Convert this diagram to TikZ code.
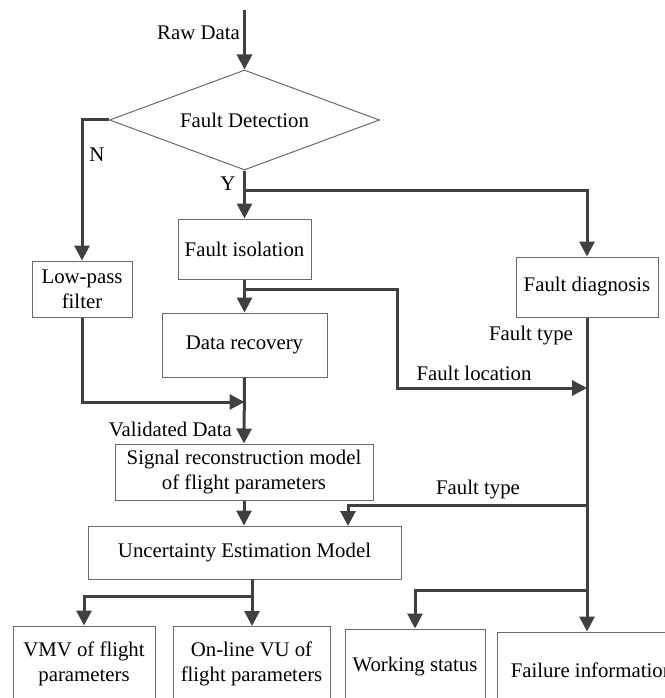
\documentclass[tikz,border=0pt]{standalone}
\usepackage{fontspec}
\setmainfont{Liberation Serif}
\usetikzlibrary{shapes.geometric,arrows.meta,calc}
\definecolor{lc}{HTML}{404040}
\definecolor{bc}{HTML}{6A6A6A}
\begin{document}
\begin{tikzpicture}[x=1pt,y=-1pt,
  every node/.style={font=\fontsize{20.8}{25}\selectfont, text=black},
  box/.style={draw=bc, line width=1pt, rectangle, inner sep=0pt, align=center},
  flow/.style={draw=lc, line width=3pt, -{Triangle[length=15pt,width=15pt]}},
  plain/.style={draw=lc, line width=3pt},
  lbl/.style={inner sep=0pt}]
\useasboundingbox (0,0) rectangle (664,698);
% nodes
\node[diamond, draw=bc, line width=1pt, minimum width=270pt, minimum height=100pt, inner sep=0pt, shape aspect=2.7] (fd) at (244.5,120) {Fault Detection};
\node[box, minimum width=133pt, minimum height=60pt] (fi) at (244.5,249) {Fault isolation};
\node[box, minimum width=100pt, minimum height=56pt] (lp) at (82,289) {Low-pass\\filter};
\node[box, minimum width=165pt, minimum height=64pt] (dr) at (244.5,345) {Data recovery};
\node[box, minimum width=142pt, minimum height=60pt] (fdg) at (587,287) {Fault diagnosis};
\node[box, minimum width=258pt, minimum height=56pt] (sr) at (244,472) {Signal reconstruction model\\of flight parameters};
\node[box, minimum width=313pt, minimum height=53pt] (ue) at (244.5,552.5) {Uncertainty Estimation Model};
\node[box, minimum width=142pt, minimum height=76pt] (vmv) at (84,664) {VMV of flight\\parameters};
\node[box, minimum width=157pt, minimum height=76pt] (ovu) at (251.5,664) {On-line VU of\\flight parameters};
\node[box, minimum width=140pt, minimum height=76pt] (ws) at (415,667) {Working status};
\node[box, minimum width=190pt, minimum height=76pt] (fin) at (592,670) {Failure information};
% labels
\node[lbl, anchor=east] (lraw) at (240,33) {Raw Data};
\node[lbl] (ln) at (97,155) {N};
\node[lbl] (ly) at (228,184) {Y};
\node[lbl, anchor=east] (lval) at (232,429) {Validated Data};
\node[lbl] (lft1) at (531,336) {Fault type};
\node[lbl] (lloc) at (474,373) {Fault location};
\node[lbl] (lft2) at (478,490) {Fault type};
% coordinates
\coordinate (s) at (244.5,10);
\coordinate (ybr) at (244.5,190);
\coordinate (fibr) at (244.5,289);
\coordinate (jloc) at (587,388);
\coordinate (jft) at (587,505);
\coordinate (jws) at (587,590);
\coordinate (mrg) at (244.5,402);
\coordinate (uo) at (252,579);
\coordinate (ubr) at (252,596);
% connectors
\draw[flow] (s) -- (fd.north);
\draw[flow] (fd.west) -| (lp.north);
\draw[flow] (fd.south) -- (fi.north);
\draw[flow] (ybr) -| (fdg.north);
\draw[flow] (fi.south) -- (dr.north);
\draw[flow] (fibr) -| (397,388) -- (jloc);
\draw[flow] (fdg.south) -- (fdg.south |- fin.north);
\draw[flow] (jft) -- (348,505) -- (348,526);
\draw[flow] (jws) -| (ws.north);
\draw[flow] (lp.south) |- (mrg);
\draw[flow] (dr.south) -- (sr.north);
\draw[flow] (sr.south) -- (sr.south |- ue.north);
\draw[flow] (uo) -- (252,626);
\draw[flow] (ubr) -| (vmv.north);
\end{tikzpicture}
\end{document}
